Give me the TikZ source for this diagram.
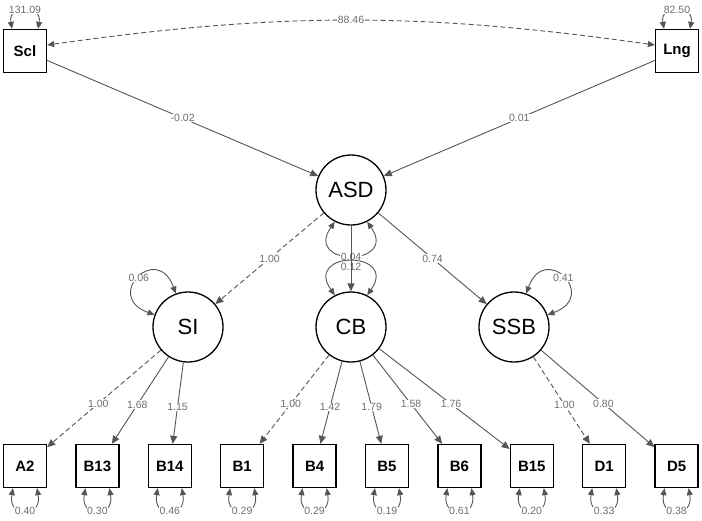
\documentclass[tikz,border=0pt]{standalone}
\usepackage{fontspec}
\setmainfont{Liberation Sans}
\usetikzlibrary{positioning, arrows.meta}
\definecolor{semline}{HTML}{555555}
\definecolor{semlabel}{HTML}{6E6E6E}

\begin{document}
\begin{tikzpicture}[x=1pt, y=1pt,
  manifest/.style={draw=black, line width=1.3pt, minimum size=43pt, inner sep=0pt,
                   font=\bfseries\fontsize{15}{15}\selectfont},
  latent/.style={circle, draw=black, line width=1.3pt, minimum size=70pt, inner sep=0pt,
                 font=\fontsize{22}{22}\selectfont},
  load/.style={draw=semline, line width=0.9pt, -{Triangle[length=8pt,width=7pt]}},
  fixed/.style={load, dash pattern=on 5pt off 3pt},
  twoway/.style={draw=semline, line width=0.9pt,
                 {Triangle[length=7pt,width=6pt]}-{Triangle[length=7pt,width=6pt]}},
  est/.style={text=semlabel, font=\fontsize{10.5}{10.5}\selectfont, fill=white, inner sep=0.5pt}]
  \useasboundingbox (0,0) rectangle (702,-520);

  \node[manifest] (Scl) at (25,-51) {Scl};
  \node[manifest] (Lng) at (677,-51) {Lng};

  \node[latent] (ASD) at (351,-190) {ASD};
  \node[latent] (SI) at (188,-327) {SI};
  \node[latent] (CB) at (351,-327) {CB};
  \node[latent] (SSB) at (514,-327) {SSB};

  \node[manifest] (A2) at (25,-466) {A2};
  \node[manifest, right=28.1pt of A2] (B13) {B13};
  \node[manifest, right=28.1pt of B13] (B14) {B14};
  \node[manifest, right=28.1pt of B14] (B1) {B1};
  \node[manifest, right=28.1pt of B1] (B4) {B4};
  \node[manifest, right=28.1pt of B4] (B5) {B5};
  \node[manifest, right=28.1pt of B5] (B6) {B6};
  \node[manifest, right=28.1pt of B6] (B15) {B15};
  \node[manifest, right=28.1pt of B15] (D1) {D1};
  \node[manifest, right=28.1pt of D1] (D5) {D5};

  % variances
  \foreach \n/\v in {Scl/131.09, Lng/82.50}
    \draw[twoway] ([xshift=-13pt]\n.north) to[out=100, in=80, looseness=2.5]
      node[est]{\v} ([xshift=13pt]\n.north);
  \foreach \n/\v in {A2/0.40, B13/0.30, B14/0.46, B1/0.29, B4/0.29,
                     B5/0.19, B6/0.61, B15/0.20, D1/0.33, D5/0.38}
    \draw[twoway] ([xshift=-12pt]\n.south) to[out=-100, in=-80, looseness=3.3]
      node[est]{\v} ([xshift=12pt]\n.south);

  \draw[twoway] (SI.160) .. controls +(160:55) and +(110:55) .. node[est]{0.06} (SI.110);
  \draw[twoway] (SSB.20) .. controls +(20:55) and +(70:55) .. node[est]{0.41} (SSB.70);
  \draw[twoway] (ASD.243) .. controls +(-125:55) and +(-55:55) .. node[est, yshift=-1pt]{0.04} (ASD.297);
  \draw[twoway] (CB.117) .. controls +(125:55) and +(55:55) .. node[est, yshift=-5pt]{0.12} (CB.63);

  % covariance and regressions
  \draw[twoway, dash pattern=on 5pt off 3pt] ([yshift=6pt]Scl.east) to[bend left=8]
    node[est]{88.46} ([yshift=6pt]Lng.west);
  \draw[load] (Scl) -- node[est]{-0.02} (ASD);
  \draw[load] (Lng) -- node[est]{0.01} (ASD);

  % loadings
  \draw[fixed] (ASD) -- node[est]{1.00} (SI);
  \draw[load] (ASD) -- (CB);
  \draw[load] (ASD) -- node[est]{0.74} (SSB);

  \draw[fixed] (SI) -- node[est, pos=0.55]{1.00} (A2);
  \draw[load] (SI) -- node[est, pos=0.55]{1.68} (B13);
  \draw[load] (SI) -- node[est, pos=0.55]{1.15} (B14);

  \draw[fixed] (CB) -- node[est, pos=0.55]{1.00} (B1);
  \draw[load] (CB) -- node[est, pos=0.55]{1.42} (B4);
  \draw[load] (CB) -- node[est, pos=0.55]{1.79} (B5);
  \draw[load] (CB) -- node[est, pos=0.55]{1.58} (B6);
  \draw[load] (CB) -- node[est, pos=0.55]{1.76} (B15);

  \draw[fixed] (SSB) -- node[est, pos=0.55]{1.00} (D1);
  \draw[load] (SSB) -- node[est, pos=0.55]{0.80} (D5);
\end{tikzpicture}
\end{document}
